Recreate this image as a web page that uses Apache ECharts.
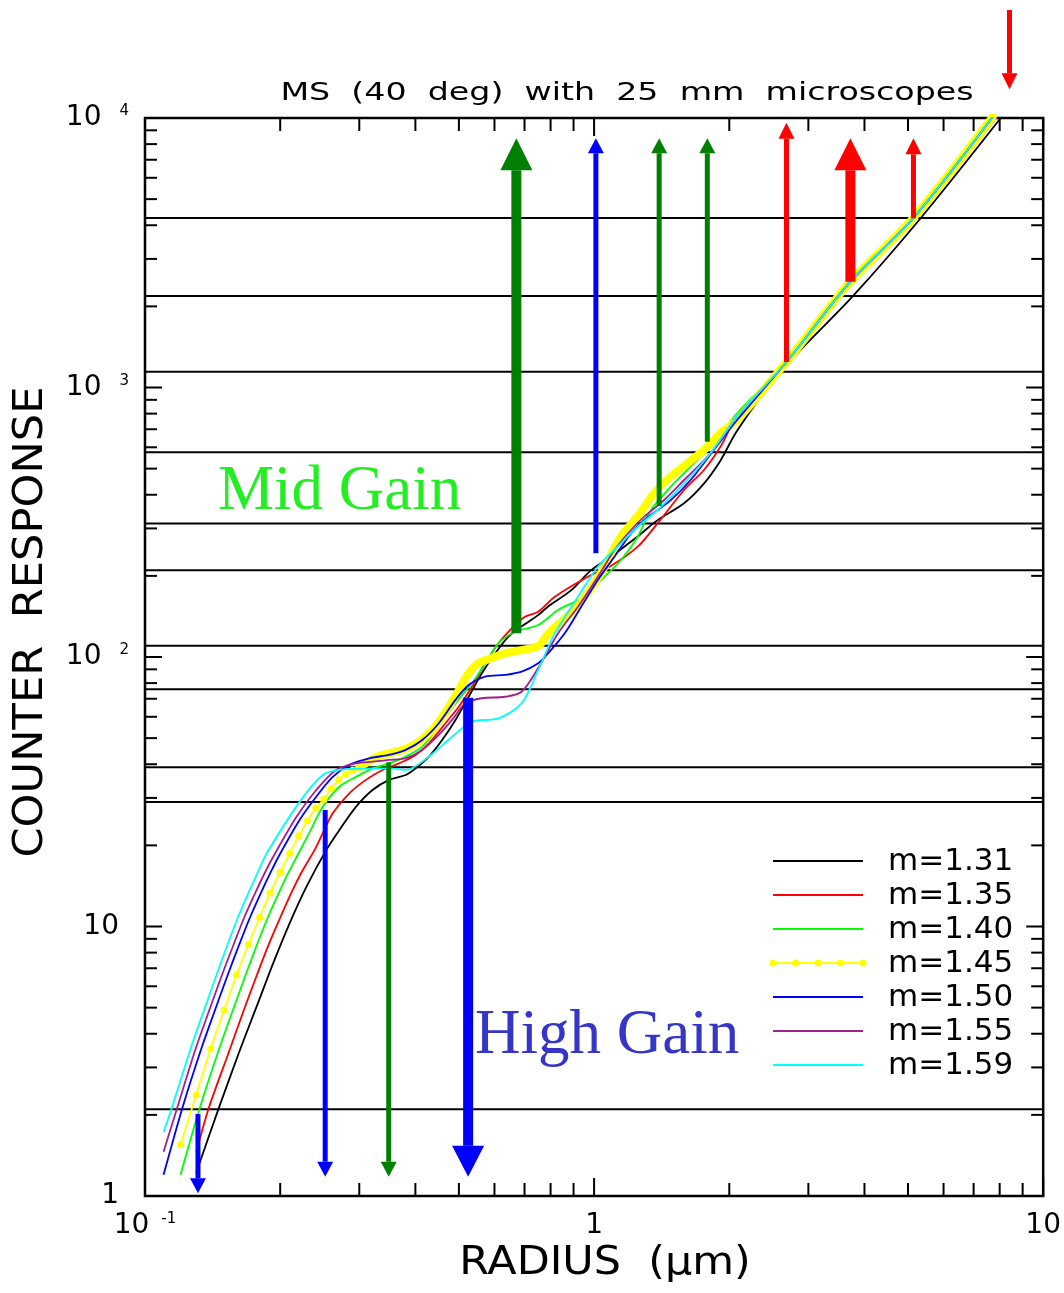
<!DOCTYPE html>
<html><head><meta charset="utf-8">
<script src="https://cdn.jsdelivr.net/npm/echarts@6/dist/echarts.min.js"></script>
<style>html,body{margin:0;padding:0;background:#fff}#c{width:1064px;height:1293px}</style>
</head><body><div id="c"></div>
<script>
// ---------------- DATA ----------------
const seriesNames = ['m=1.31','m=1.35','m=1.40','m=1.45','m=1.50','m=1.55','m=1.59'];
const m131 = [[0.130,1.22],[0.1457,2.10],[0.1627,3.48],[0.1772,5.04],[0.1929,7.30],[0.2100,10.3],[0.2286,14.0],[0.2532,19.2],[0.2709,22.8],[0.2949,27.8],[0.3211,32.1],[0.3496,35.0],[0.3807,36.5],[0.4006,38.6],[0.4287,42.7],[0.4588,49.2],[0.4913,58.4],[0.5257,71.2],[0.5625,87.0],[0.6021,103],[0.6444,119],[0.6896,130],[0.7508,143],[0.79,154],[0.89,177],[0.985,210],[1.091,236],[1.25,280],[1.385,322],[1.586,372],[1.756,440],[1.911,535],[2.08,690],[2.598,1145],[3.76,2173],[5.34,4256],[8.035,9974]];
const m135 = [[0.130,1.45],[0.1384,2.10],[0.1546,3.51],[0.1660,4.90],[0.1775,6.61],[0.1886,8.59],[0.2001,10.8],[0.2116,13.3],[0.2232,15.9],[0.2385,19.2],[0.2488,22.2],[0.2618,26.3],[0.2851,31.2],[0.3104,35.0],[0.338,38.1],[0.3679,40.3],[0.4006,43.3],[0.4287,47.8],[0.4667,56.8],[0.4996,65.4],[0.5346,77.6],[0.5722,94.8],[0.6124,112.4],[0.6553,127.8],[0.7016,141.1],[0.7508,147.3],[0.8176,167.4],[0.9689,198.6],[1.0911,218],[1.2503,256.6],[1.3849,313.4],[1.5863,416.5],[1.7561,494.2],[1.9114,603.1],[2.0817,779.3],[2.72,1243],[3.78,2470],[5.22,4256],[7.85,10000]];
const m140 = [[0.12,1.20],[0.1322,2.10],[0.1462,3.51],[0.157,4.90],[0.1675,6.61],[0.1777,8.59],[0.1877,10.8],[0.1985,13.3],[0.2089,15.9],[0.2198,18.7],[0.232,22.2],[0.2488,27.8],[0.2709,33.0],[0.2949,35.9],[0.3211,38.6],[0.3496,40.3],[0.3807,42.7],[0.4143,46.5],[0.4511,55.1],[0.4913,67.3],[0.5346,79.9],[0.5722,94.8],[0.6124,112.4],[0.6668,124.1],[0.7508,131.5],[0.8316,149.4],[0.9207,162.7],[0.9689,172.4],[1.055,198.6],[1.1482,229.1],[1.2503,279.5],[1.3383,351.2],[1.482,428.4],[1.6406,508.3],[1.8161,603.1],[2.0817,802.2],[2.6814,1243],[3.7214,2470],[5.1416,4256],[7.7161,10086]];
const m145dots = [[0.12,1.55],[0.13,2.37],[0.14,3.51],[0.15,4.90],[0.16,6.61],[0.17,8.59],[0.18,10.8],[0.19,13.3],[0.20,15.9],[0.21,18.7],[0.22,21.7],[0.23,24.7],[0.24,27.5],[0.25,29.6],[0.26,32.5],[0.27,35.0],[0.28,36.8],[0.29,38.0],[0.30,38.9]];
const m145dense = [[0.30,38.9],[0.329,42.7],[0.35,43.9],[0.374,45.2],[0.40,47.6],[0.429,52.1],[0.451,57.5],[0.475,65.4],[0.50,75.4],[0.525,87.0],[0.552,94.8],[0.59,98.9],[0.632,103],[0.69,106],[0.753,110],[0.79,122],[0.888,146],[0.969,173],[1.055,216],[1.146,279],[1.25,332],[1.36,405],[1.48,467],[1.613,523],[1.757,586],[1.912,676],[2.082,757],[2.6814,1243],[3.7214,2470],[5.1416,4256],[7.7161,10086]];
const m150 = [[0.11,1.20],[0.1209,2.10],[0.1334,3.51],[0.1432,4.90],[0.1528,6.61],[0.1622,8.59],[0.1713,10.8],[0.1811,13.3],[0.1905,15.9],[0.2002,18.7],[0.2209,24.85],[0.2406,30.3],[0.2618,35.9],[0.2851,39.8],[0.3157,42.1],[0.3496,43.3],[0.3807,45.2],[0.4143,49.2],[0.4511,56.8],[0.4913,69.3],[0.5257,78.7],[0.5722,84.5],[0.6338,85.8],[0.6896,88.2],[0.7508,94.8],[0.79,103.2],[0.8604,122.4],[0.9363,153.7],[1.0195,193.1],[1.1101,235.6],[1.2085,287.7],[1.2937,322.3],[1.482,382.4],[1.6406,453.7],[1.8477,586.4],[2.0817,757.6],[2.6814,1243],[3.7214,2470],[5.1416,4256],[7.7161,10086]];
const m155 = [[0.11,1.46],[0.1177,2.10],[0.1296,3.51],[0.1391,4.90],[0.1484,6.61],[0.1576,8.59],[0.1663,10.8],[0.1759,13.3],[0.1851,15.9],[0.1949,18.7],[0.2173,25.5],[0.2406,32.1],[0.2664,38.1],[0.2949,40.3],[0.3211,40.9],[0.3496,41.5],[0.3807,42.1],[0.4143,45.2],[0.4511,51.4],[0.4828,58.4],[0.5169,67.3],[0.5625,70.3],[0.6338,71.2],[0.6896,74.3],[0.7508,91],[0.8316,122.4],[0.9207,153.7],[1.0195,198.6],[1.1101,249.5],[1.2085,296],[1.2937,331.6],[1.4329,382.4],[1.5863,453.7],[1.8161,570.1],[2.0817,779.3],[2.6814,1243],[3.7214,2470],[5.1416,4256],[7.7161,10086]];
const m159 = [[0.11,1.73],[0.1145,2.10],[0.1263,3.51],[0.1354,4.90],[0.1443,6.61],[0.1528,8.59],[0.161,10.8],[0.1699,13.3],[0.1783,15.9],[0.1867,18.7],[0.2209,29.0],[0.2488,36.5],[0.2709,38.1],[0.3211,38.6],[0.3496,38.6],[0.3807,38.1],[0.4287,42.7],[0.4828,50.6],[0.5346,57.5],[0.6124,59.2],[0.6896,67.3],[0.7508,89.5],[0.8176,122.4],[0.9207,167.4],[1.0195,216.3],[1.1482,264.2],[1.2503,304.5],[1.3849,351.2],[1.5863,441],[1.8161,570.1],[2.0817,779.3],[2.6814,1243],[3.7214,2470],[5.1416,4256],[7.7161,10086]];

// channel thresholds (horizontal lines)
const thresholds = [4256, 2186, 1145, 575, 313, 210, 110, 75.9, 39.0, 29.0, 2.10];

// arrows: [x, yFrom, yTo]
const arrowsGreenThick = [[0.6713, 122.4, 8409]];
const arrowsGreenThin  = [[1.396, 363.4, 8409], [1.787, 629.5, 8409], [0.3489, 40.68, 1.179]];
const arrowsBlueThick  = [[0.5242, 70.6, 1.179]];
const arrowsBlueThin   = [[1.0092, 242.6, 8409], [0.1312, 2.015, 1.023], [0.2519, 27.06, 1.179]];
const arrowsRedThick   = [[3.7214, 2470, 8409]];
const arrowsRedThin    = [[2.6814, 1243, 9608], [5.1416, 4245, 8409], [8.414, 25160, 12783]];

// axis ticks
const xMajorTicks = [0.1, 1, 10];
const xMinorTicks = [0.2,0.3,0.4,0.5,0.6,0.7,0.8,0.9,2,3,4,5,6,7,8,9];
const yMajorTicks = [1, 10, 100, 1000, 10000];
const yMinorTicks = [2,3,4,5,6,7,8,9,20,30,40,50,60,70,80,90,200,300,400,500,600,700,800,900,2000,3000,4000,5000,6000,7000,8000,9000];

const titleText = 'MS  (40  deg)  with  25  mm  microscopes';
const xTitle = 'RADIUS  (μm)';
const yTitle = 'COUNTER  RESPONSE';
const label1 = 'Mid Gain';
const label2 = 'High Gain';

// ---------------- STYLE ----------------
const colors = ['#000000','#ff0000','#00ff00','#ffff00','#0000ff','#a0208f','#00ffff'];
const FONT = 'DejaVu Sans';
const LW = 1.8;

const chart = echarts.init(document.getElementById('c'), null, {renderer:'canvas'});

function tickSeries(data, axis, len) {
  return {
    type:'custom', silent:true, z:10, clip:false,
    data: data.map(v => axis === 'x' ? [v, 1] : [0.1, v]),
    encode: {x:0, y:1},
    renderItem: (params, api) => {
      const v = axis === 'x' ? api.value(0) : api.value(1);
      const st = {stroke:'#000', lineWidth:2};
      if (axis === 'x') {
        const b = api.coord([v, 1]), t = api.coord([v, 10000]);
        return {type:'group', children:[
          {type:'line', shape:{x1:b[0],y1:b[1],x2:b[0],y2:b[1]-len}, style:st},
          {type:'line', shape:{x1:t[0],y1:t[1],x2:t[0],y2:t[1]+len}, style:st}]};
      } else {
        const l = api.coord([0.1, v]), r = api.coord([10, v]);
        return {type:'group', children:[
          {type:'line', shape:{x1:l[0],y1:l[1],x2:l[0]+len,y2:l[1]}, style:st},
          {type:'line', shape:{x1:r[0],y1:r[1],x2:r[0]-len,y2:r[1]}, style:st}]};
      }
    }
  };
}

function arrowSeries(data, color, shaftW, headW, headL) {
  return {
    type:'custom', silent:true, z:6, clip:false,
    data: data, encode:{x:0, y:[1,2]},
    renderItem: (params, api) => {
      const p0 = api.coord([api.value(0), api.value(1)]);
      const p1 = api.coord([api.value(0), api.value(2)]);
      const x = p0[0];
      const dir = p1[1] < p0[1] ? -1 : 1; // -1 up
      const base = p1[1] - dir * headL;
      const y0 = Math.min(p0[1], base), y1 = Math.max(p0[1], base);
      return {type:'group', children:[
        {type:'rect', shape:{x:x-shaftW/2, y:y0, width:shaftW, height:y1-y0}, style:{fill:color}},
        {type:'polygon', shape:{points:[[x-headW/2, base],[x+headW/2, base],[x, p1[1]]]}, style:{fill:color}}
      ]};
    }
  };
}

const series = [];
// thresholds
series.push({
  type:'custom', silent:true, z:1,
  data: thresholds.map(v => [0.1, v]), encode:{x:0, y:1},
  renderItem: (params, api) => {
    const l = api.coord([0.1, api.value(1)]), r = api.coord([10, api.value(1)]);
    return {type:'line', shape:{x1:l[0], y1:l[1], x2:r[0], y2:r[1]}, style:{stroke:'#000', lineWidth:2}};
  }
});
const curveData = [m131, m135, m140, m145dots.concat(m145dense.slice(1)), m150, m155, m159];
seriesNames.forEach((name, i) => {
  if (i === 3) {
    series.push({name, type:'line', data: curveData[i], smooth:0.3, z:3,
      symbol:'circle', symbolSize: (v) => v[0] <= 0.305 ? 7 : 0, showAllSymbol:true,
      itemStyle:{color:colors[i]}, lineStyle:{color:colors[i], width:LW}});
    series.push({name: name + ' (dense)', type:'line', data: m145dense, smooth:0.3, z:3, symbol:'none',
      lineStyle:{color:colors[i], width:8, cap:'round', join:'round'}});
  } else {
    series.push({name, type:'line', data: curveData[i], smooth:0.3, z:3 + (i>3?1:0), symbol:'none',
      lineStyle:{color:colors[i], width:LW}});
  }
});
series.push(arrowSeries(arrowsGreenThick, '#008000', 10, 32, 32));
series.push(arrowSeries(arrowsGreenThin, '#008000', 5, 16, 15));
series.push(arrowSeries(arrowsBlueThick, '#0000ff', 10, 32, 31));
series.push(arrowSeries(arrowsBlueThin, '#0000ff', 5, 16, 15));
series.push(arrowSeries(arrowsRedThick, '#ff0000', 10, 32, 32));
series.push(arrowSeries(arrowsRedThin, '#ff0000', 5, 16, 16));
series.push(tickSeries(xMajorTicks, 'x', 18));
series.push(tickSeries(xMinorTicks, 'x', 13));
series.push(tickSeries(yMajorTicks, 'y', 17));
series.push(tickSeries(yMinorTicks, 'y', 12));

// legend as graphics
const legendItems = [];
const legX0 = 773, legX1 = 863, legY0 = 861, legDY = 34;
seriesNames.forEach((name, i) => {
  const y = legY0 + i * legDY;
  legendItems.push({type:'line', shape:{x1:legX0, y1:y, x2:legX1, y2:y}, style:{stroke:colors[i], lineWidth:2}});
  if (i === 3) {
    for (let k = 0; k < 5; k++) {
      legendItems.push({type:'circle', shape:{cx: legX0 + k*(legX1-legX0)/4, cy:y, r:3.6}, style:{fill:colors[i]}});
    }
  }
  legendItems.push({type:'text', x:888, y:y+1, style:{text:name, fontSize:31, fontFamily:FONT, fill:'#000', align:'left', verticalAlign:'middle'}});
});

const option = {
  animation:false,
  backgroundColor:'#fff',
  grid:{left:145, right:16, top:118, bottom:97, show:true, borderColor:'#000', borderWidth:2.5, backgroundColor:'transparent'},
  xAxis:{type:'log', logBase:10, min:0.1, max:10,
    axisLine:{show:false}, axisTick:{show:false}, splitLine:{show:false},
    axisLabel:{margin:16, showMinLabel:true, showMaxLabel:true,
      formatter:(v) => { const e = Math.round(Math.log10(v)); return e === -1 ? '{b|10}{s|-1}' : (e === 0 ? '{b|1}' : '{b|10}'); },
      rich:{b:{fontSize:28, fontFamily:FONT, color:'#000', lineHeight:28}, s:{fontSize:15, fontFamily:FONT, color:'#000', verticalAlign:'top', lineHeight:15, padding:[0,0,0,12]}}}},
  yAxis:{type:'log', logBase:10, min:1, max:10000,
    axisLine:{show:false}, axisTick:{show:false}, splitLine:{show:false},
    axisLabel:{margin:16,
      formatter:(v) => { const e = Math.round(Math.log10(v)); if (e === 0) return '{b|1}{g|}'; if (e === 1) return '{b|10}{g|}'; return '{b|10}{s|' + e + '}'; },
      rich:{b:{fontSize:28, fontFamily:FONT, color:'#000', lineHeight:28}, s:{fontSize:15, fontFamily:FONT, color:'#000', verticalAlign:'top', lineHeight:15, padding:[0,0,0,18]}, g:{width:10}}}},
  series,
  graphic:[
    {type:'text', x:627, y:93, scaleX:1.33, style:{text:titleText, fontSize:25, fontFamily:FONT, fill:'#000', align:'center', verticalAlign:'middle'}},
    {type:'text', x:32, y:622, rotation:Math.PI/2, scaleX:1.08, style:{text:yTitle, fontSize:40, fontFamily:FONT, fill:'#000', align:'center', verticalAlign:'middle'}},
    {type:'text', x:605, y:1264, scaleX:1.1, style:{text:xTitle, fontSize:39, fontFamily:FONT, fill:'#000', align:'center', verticalAlign:'middle'}},
    {type:'text', x:218, y:492, style:{text:label1, fontSize:63, fontFamily:'Liberation Serif', fill:'#22ee22', align:'left', verticalAlign:'middle'}},
    {type:'text', x:475, y:1036, style:{text:label2, fontSize:63, fontFamily:'Liberation Serif', fill:'#3535c8', align:'left', verticalAlign:'middle'}},
    {type:'group', children: legendItems}
  ]
};
chart.setOption(option);
</script>
</body></html>
